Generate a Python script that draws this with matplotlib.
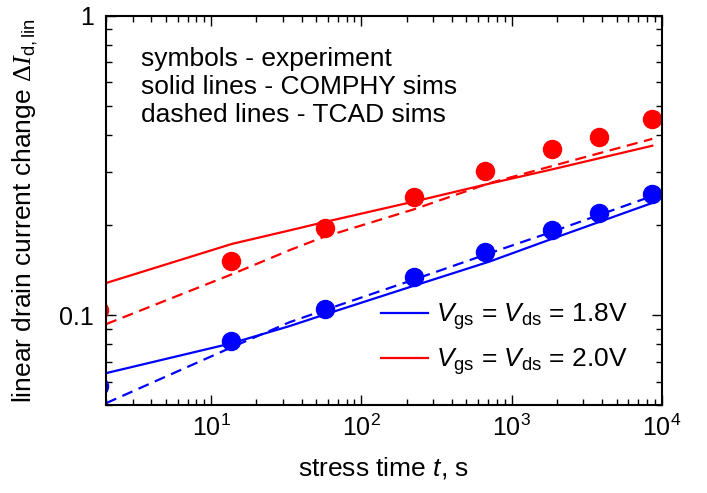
"""
- stress time vs linear drain current change
- experiment symbols, COMPHY (solid) and TCAD (dashed) sims
"""
import math

import matplotlib

matplotlib.use("Agg")
import matplotlib.pyplot as plt
from matplotlib.ticker import FuncFormatter, NullFormatter, LogLocator

plt.rcParams["font.family"] = ["Liberation Sans", "DejaVu Sans"]
plt.rcParams["mathtext.fontset"] = "custom"
plt.rcParams["mathtext.rm"] = "Liberation Serif"
plt.rcParams["mathtext.it"] = "Liberation Sans:italic"
plt.rcParams["mathtext.sf"] = "Liberation Sans"
plt.rcParams["mathtext.bf"] = "Liberation Serif:italic"

# experiment (symbols)
t_exp = [1.8, 13.6, 57, 223, 661, 1870, 3850, 8650]
exp_18 = [0.058, 0.0818, 0.105, 0.134, 0.163, 0.192, 0.219, 0.254]
exp_20 = [0.104, 0.152, 0.195, 0.248, 0.303, 0.359, 0.393, 0.453]

# simulations
t_sim = [2.0, 13.8, 33.5, 55.5, 220, 714, 1870, 8650]
comphy_18 = [0.064, 0.0806, 0.092, 0.100, 0.125, 0.151, 0.180, 0.237]
comphy_20 = [0.128, 0.173, 0.192, 0.204, 0.239, 0.275, 0.307, 0.368]
tcad_18 = [0.0508, 0.0782, 0.0948, 0.1035, 0.131, 0.161, 0.190, 0.250]
tcad_20 = [0.0933, 0.137, 0.165, 0.182, 0.225, 0.276, 0.315, 0.388]

blue = "#0000ff"
red = "#ff0000"

fig = plt.figure(figsize=(7.07, 4.93), dpi=100)
ax = fig.add_axes([0.150, 0.178, 0.786, 0.790])

ax.plot(t_sim, comphy_18, "-", color=blue, lw=1.6,
        label=r"$V_\mathsf{gs}$ = $V_\mathsf{ds}$ = 1.8V")
ax.plot(t_sim, comphy_20, "-", color=red, lw=1.6,
        label=r"$V_\mathsf{gs}$ = $V_\mathsf{ds}$ = 2.0V")
ax.plot(t_sim, tcad_18, "--", color=blue, lw=1.6, dashes=(5, 3))
ax.plot(t_sim, tcad_20, "--", color=red, lw=1.6, dashes=(5, 3))
ax.plot(t_exp, exp_18, "o", color=blue, ms=13)
ax.plot(t_exp, exp_20, "o", color=red, ms=13)

ax.set_xscale("log")
ax.set_yscale("log")
ax.set_xlim(2.0, 1e4)
ax.set_ylim(0.05, 1)

ax.xaxis.set_major_formatter(
    FuncFormatter(lambda v, p: r"$\mathsf{10}^{\mathsf{%d}}$" % round(math.log10(v)))
)
ax.set_yticks([0.1, 1])
ax.set_yticklabels(["0.1", "1"])
ax.yaxis.set_minor_locator(LogLocator(base=10, subs=range(2, 10)))
ax.yaxis.set_minor_formatter(NullFormatter())
ax.xaxis.set_minor_formatter(NullFormatter())

ax.tick_params(which="both", direction="in", top=True, right=True,
               labelsize=18, width=1.0)
ax.tick_params(which="major", length=7)
ax.tick_params(axis="x", which="major", pad=7)
ax.tick_params(axis="y", which="major", pad=9)
ax.tick_params(which="minor", length=4)
for s in ax.spines.values():
    s.set_linewidth(1.5)

ax.set_xlabel(r"stress time $t$, s", fontsize=19, labelpad=10)
ax.set_ylabel(r"linear drain current change $\Delta\mathbf{I}_\mathsf{d,lin}$",
              fontsize=19)
ax.yaxis.set_label_coords(-0.118, 0.5)

ax.text(0.063, 0.92,
        "symbols - experiment\nsolid lines - COMPHY sims\ndashed lines - TCAD sims",
        transform=ax.transAxes, fontsize=19, va="top", ha="left", linespacing=1.2)

ax.legend(loc="lower right", bbox_to_anchor=(0.958, 0.045), borderaxespad=0,
          frameon=False, fontsize=19, handlelength=1.8, handletextpad=0.3,
          labelspacing=0.55)

fig.savefig("out.png", dpi=100)
